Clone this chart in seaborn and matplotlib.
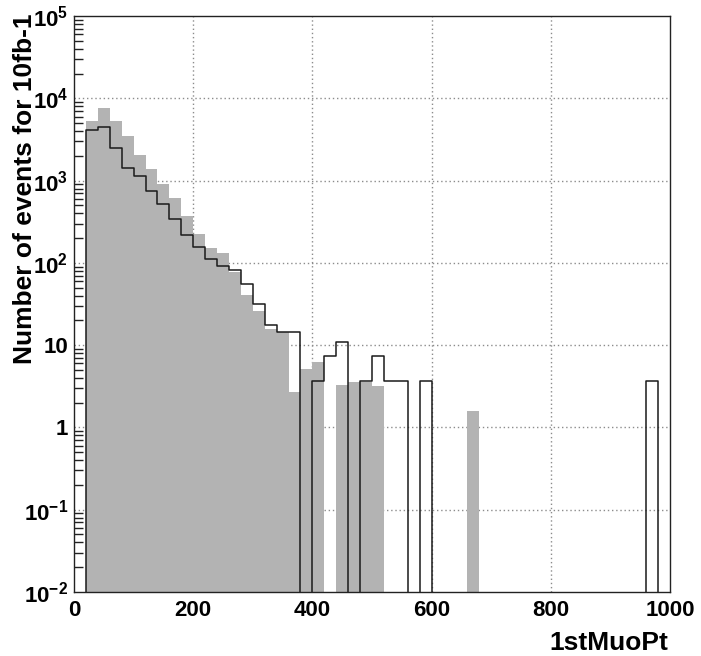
import numpy as np
import pandas as pd
import matplotlib
matplotlib.use("Agg")
import matplotlib.pyplot as plt
import seaborn as sns
from matplotlib.ticker import FixedLocator, FixedFormatter, LogLocator, NullFormatter

# ---- data ----
bin_edges = list(range(0, 1001, 20))
bkg_values = [0, 5290, 7710, 5290, 3475, 2027, 1368, 916, 620, 370,
              226, 153, 130, 77, 41, 25.8, 15.8, 14.4, 2.7, 5.2,
              6.3, 0, 3.25, 3.54, 3.54, 3.2, 0, 0, 0, 0,
              0, 0, 0, 1.6, 0, 0, 0, 0, 0, 0,
              0, 0, 0, 0, 0, 0, 0, 0, 0, 0]
sig_values = [0, 4080, 4530, 2510, 1435, 1135, 745, 513, 344, 221,
              154, 112, 91, 81, 54.6, 32, 17.8, 14.4, 14.4, 0,
              3.64, 7.3, 10.8, 0, 3.64, 7.3, 3.64, 3.64, 0, 3.64,
              0, 0, 0, 0, 0, 0, 0, 0, 0, 0,
              0, 0, 0, 0, 0, 0, 0, 0, 3.64, 0]
x_ticks = [0, 200, 400, 600, 800, 1000]
x_ticklabels = ["0", "200", "400", "600", "800", "1000"]
y_ticks = [1e-2, 1e-1, 1, 10, 1e2, 1e3, 1e4, 1e5]
y_ticklabels = [r"$\mathbf{10^{-2}}$", r"$\mathbf{10^{-1}}$", "1", "10",
                r"$\mathbf{10^{2}}$", r"$\mathbf{10^{3}}$", r"$\mathbf{10^{4}}$", r"$\mathbf{10^{5}}$"]
x_label = "1stMuoPt"
y_label = "Number of events for 10fb-1"

sns.set_style("white")
plt.rcParams["font.family"] = ["Liberation Sans", "DejaVu Sans"]
plt.rcParams["font.weight"] = "bold"
plt.rcParams["text.color"] = "black"
plt.rcParams["xtick.color"] = "black"
plt.rcParams["ytick.color"] = "black"
plt.rcParams["mathtext.fontset"] = "custom"
plt.rcParams["mathtext.bf"] = "Liberation Sans:bold"
plt.rcParams["mathtext.rm"] = "Liberation Sans:bold"

centers = [(bin_edges[i] + bin_edges[i + 1]) / 2 for i in range(len(bin_edges) - 1)]
df = pd.DataFrame({"x": centers, "bkg": bkg_values, "sig": sig_values})

fig = plt.figure(figsize=(7.01, 6.56), dpi=100)
ax = fig.add_axes([74 / 701, 1 - 592 / 656, (670 - 74) / 701, (592 - 16) / 656])

sns.histplot(data=df, x="x", weights="bkg", bins=bin_edges, element="step",
             fill=True, color="#b3b3b3", alpha=1.0, linewidth=0, ax=ax, zorder=1)
sns.histplot(data=df, x="x", weights="sig", bins=bin_edges, element="step",
             fill=False, color="#1a1a1a", linewidth=1.1, ax=ax, zorder=2)

ax.set_yscale("log")
ax.set_xlim(0, 1000)
ax.set_ylim(1e-2, 1e5)

# grid (below the fill)
for gx in x_ticks[1:-1]:
    ax.axvline(gx, color="#8c8c8c", lw=1.0, ls=(0, (1, 2)), zorder=0.5)
for gy in y_ticks[1:-1]:
    ax.axhline(gy, color="#8c8c8c", lw=1.0, ls=(0, (1, 2)), zorder=0.5)

ax.xaxis.set_major_locator(FixedLocator(x_ticks))
ax.xaxis.set_major_formatter(FixedFormatter(x_ticklabels))
ax.yaxis.set_major_locator(FixedLocator(y_ticks))
ax.yaxis.set_major_formatter(FixedFormatter(y_ticklabels))
ax.yaxis.set_minor_locator(LogLocator(base=10, subs=np.arange(2, 10), numticks=20))
ax.yaxis.set_minor_formatter(NullFormatter())
ax.xaxis.set_minor_locator(FixedLocator([]))

ax.tick_params(axis="both", which="major", direction="in", length=12, width=1.0,
               color="#222222", labelcolor="black", labelsize=16, top=False, right=False)
ax.tick_params(axis="y", which="minor", direction="in", length=6.5, width=1.0,
               color="#222222", left=True, right=False)
ax.tick_params(axis="y", which="major", pad=4)
ax.tick_params(axis="x", which="major", pad=6)
for lab in ax.get_xticklabels() + ax.get_yticklabels():
    lab.set_fontweight("bold")

for s in ax.spines.values():
    s.set_visible(True)
    s.set_color("#222222")
    s.set_linewidth(1.0)

ax.set_xlabel("")
ax.set_ylabel("")
fig.text(25 / 701, 1 - 13 / 656, y_label, rotation=90, ha="center", va="top",
         fontsize=19, fontweight="bold", color="black")
fig.text(668 / 701, 1 - 643 / 656, x_label, ha="right", va="center",
         fontsize=19, fontweight="bold", color="black")

fig.savefig("out.png", dpi=100)
